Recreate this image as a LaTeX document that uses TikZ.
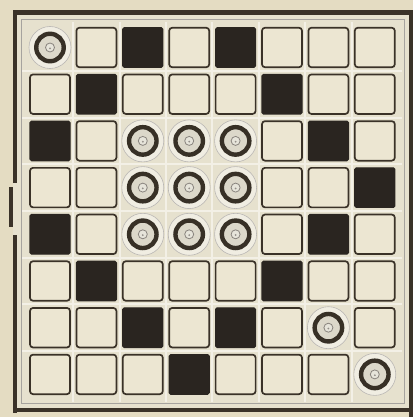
\documentclass[tikz,border=0pt]{standalone}
\usetikzlibrary{calc}
\definecolor{paper}{HTML}{E4DCC2}
\definecolor{boardbg}{HTML}{E6E1CE}
\definecolor{gutter}{HTML}{F3F0E6}
\definecolor{cellfill}{HTML}{ECE6D2}
\definecolor{ink}{HTML}{3A3228}
\definecolor{blk}{HTML}{2A2520}
\definecolor{pieceface}{HTML}{DCD8CA}
\tikzset{
  whitecell/.style={draw=ink, line width=1.7pt, fill=cellfill, rounded corners=3pt,
    minimum width=40pt, minimum height=39.5pt, inner sep=0pt, shape=rectangle},
  blackcell/.style={draw=blk, line width=1.2pt, fill=blk, rounded corners=1.5pt,
    minimum width=40pt, minimum height=39.5pt, inner sep=0pt, shape=rectangle},
  halo/.style={circle, draw=ink!35, line width=0.6pt, fill=boardbg!60!white,
    minimum size=42pt, inner sep=0pt},
  piece/.style={circle, draw=ink!95!black, line width=4.4pt, fill=pieceface,
    minimum size=27.5pt, inner sep=0pt},
  pip/.style={circle, draw=ink!60, line width=0.8pt, fill=pieceface!70!white,
    minimum size=9pt, inner sep=0pt},
  frame/.style={draw=ink, line width=4.6pt},
}
\begin{document}
\begin{tikzpicture}[x=1pt,y=-1pt]
\useasboundingbox (0,0) rectangle (413,417);
\fill[paper] (0,0) rectangle (413,417);
% board interior
\fill[boardbg] (13,12) rectangle (411,411);
% gutter light lines
\foreach \k in {0,...,6}{
  \draw[gutter, line width=2pt] ({73.2+46.4*\k},22) -- ({73.2+46.4*\k},402);
  \draw[gutter, line width=2pt] (22,{70.85+46.7*\k}) -- (402,{70.85+46.7*\k});
}
% inner thin frame line
\draw[ink!45, line width=0.8pt] (21,19.5) rectangle (404,403.5);
% outer thick frame
\coordinate (tl) at (13,12.5);
\coordinate (tr) at (413,12.5);
\draw[frame] (tl) -- (tr);
\coordinate (l1a) at (15,10.5);
\coordinate (l1b) at (15,183);
\coordinate (l2a) at (11,187);
\coordinate (l2b) at (11,227);
\coordinate (l3a) at (15,235);
\coordinate (l3b) at (15,413);
\draw[frame] (l1a) -- (l1b);
\draw[frame] (l2a) -- (l2b);
\draw[frame] (l3a) -- (l3b);
\coordinate (ra) at (410.8,10.5);
\coordinate (rb) at (410.8,417);
\draw[frame] (ra) -- (rb);
\coordinate (ba) at (13,409.8);
\coordinate (bb) at (413,409.8);
\draw[frame] (ba) -- (bb);
% cells
\foreach \r/\c/\t in {
0/0/p,0/1/w,0/2/b,0/3/w,0/4/b,0/5/w,0/6/w,0/7/w,
1/0/w,1/1/b,1/2/w,1/3/w,1/4/w,1/5/b,1/6/w,1/7/w,
2/0/b,2/1/w,2/2/p,2/3/p,2/4/p,2/5/w,2/6/b,2/7/w,
3/0/w,3/1/w,3/2/p,3/3/p,3/4/p,3/5/w,3/6/w,3/7/b,
4/0/b,4/1/w,4/2/p,4/3/p,4/4/p,4/5/w,4/6/b,4/7/w,
5/0/w,5/1/b,5/2/w,5/3/w,5/4/w,5/5/b,5/6/w,5/7/w,
6/0/w,6/1/w,6/2/b,6/3/w,6/4/b,6/5/w,6/6/p,6/7/w,
7/0/w,7/1/w,7/2/w,7/3/b,7/4/w,7/5/w,7/6/w,7/7/p}{
  \pgfmathsetmacro{\cx}{50+46.4*\c}
  \pgfmathsetmacro{\cy}{47.5+46.7*\r}
  \if\t w
    \node[whitecell] (cell-\r-\c) at (\cx,\cy) {};
  \fi
  \if\t b
    \node[blackcell] (cell-\r-\c) at (\cx,\cy) {};
  \fi
  \if\t p
    \node[halo] (halo-\r-\c) at (\cx,\cy) {};
    \node[piece] (piece-\r-\c) at (\cx,\cy) {};
    \node[pip] (pip-\r-\c) at (\cx,\cy) {};
    \fill[ink!55] ($(pip-\r-\c.center)+(0,0.8)$) circle (1pt);
  \fi
}
\end{tikzpicture}
\end{document}
